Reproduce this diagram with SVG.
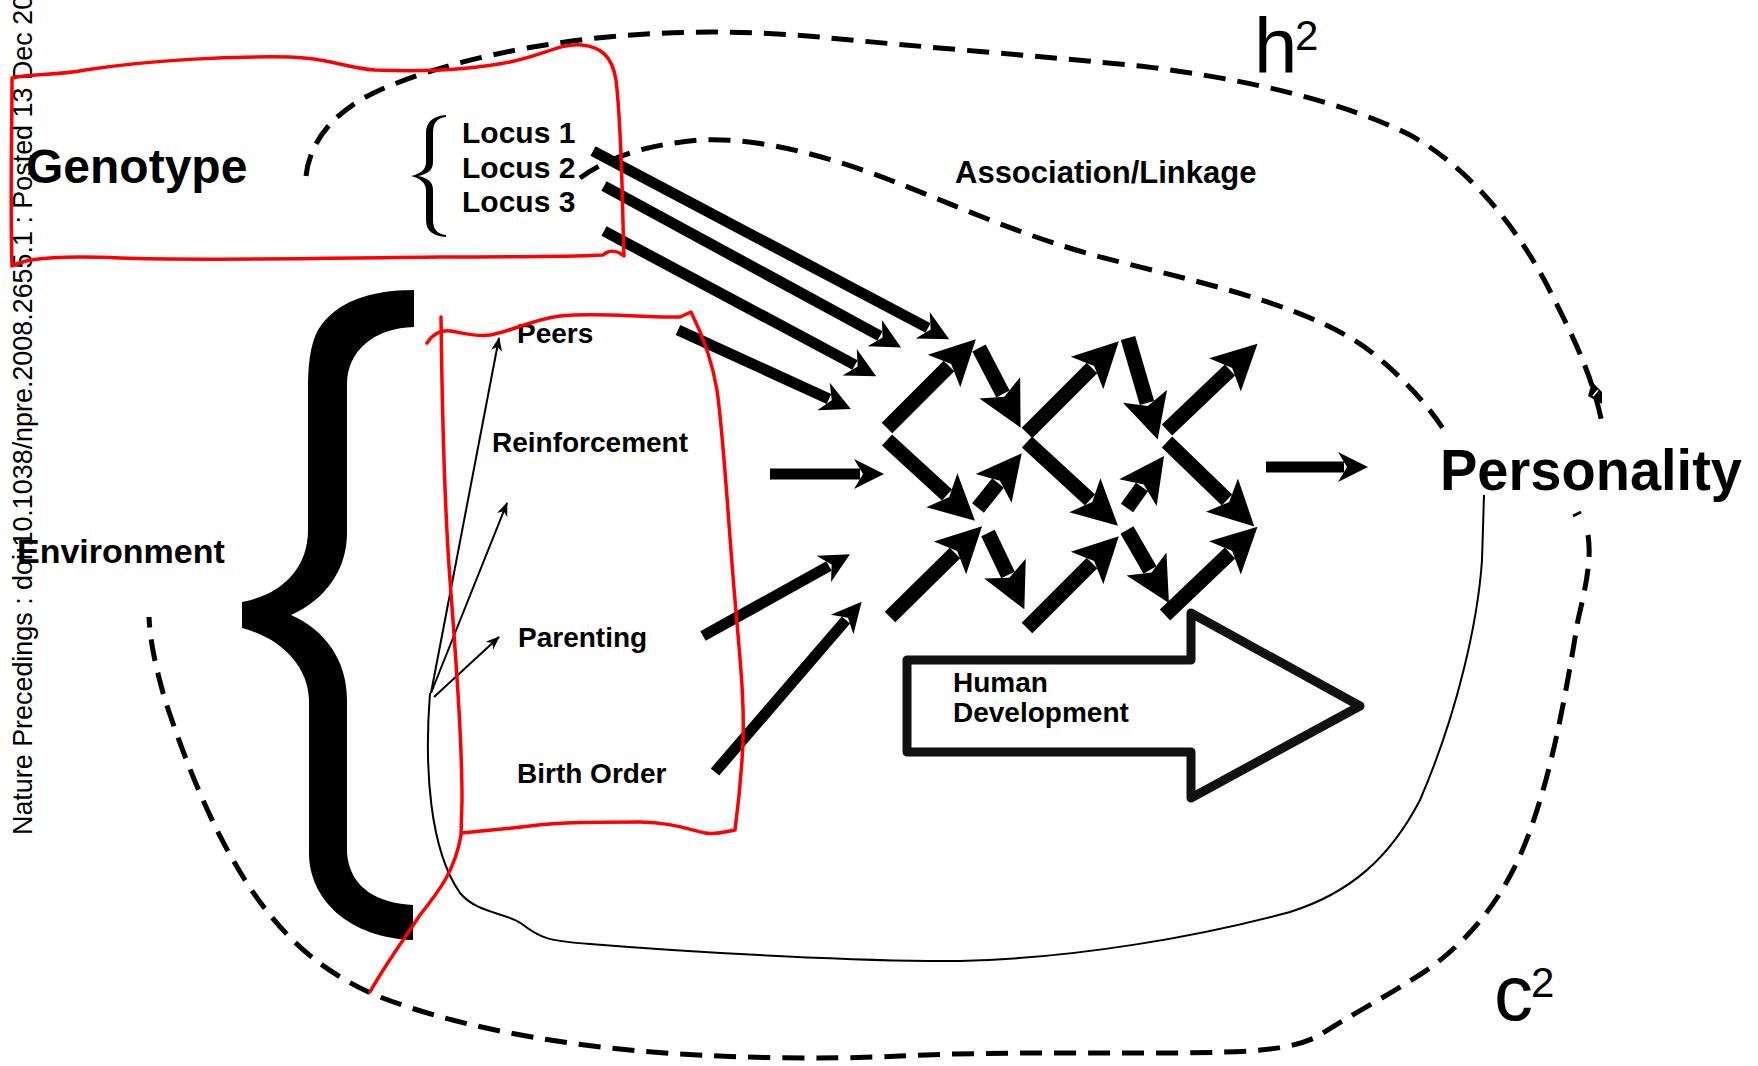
<svg xmlns="http://www.w3.org/2000/svg" width="1758" height="1066" viewBox="0 0 1758 1066">
<style>
.t{font-family:"Liberation Sans",Arial,sans-serif;font-weight:bold;fill:#000}
.r{font-family:"Liberation Sans",Arial,sans-serif;fill:#000}
.red{fill:none;stroke:#f00;stroke-width:3.5;stroke-linecap:round;stroke-linejoin:round}
.dash{fill:none;stroke:#000;stroke-width:5;stroke-dasharray:22 12}
.solid{fill:none;stroke:#000;stroke-width:2}
.in{fill:none;stroke:#000;stroke-width:11;marker-end:url(#ah)}
.net{fill:none;stroke:#000;stroke-width:15;marker-end:url(#ahb)}
.thin{fill:none;stroke:#000;stroke-width:2;marker-end:url(#as)}
</style>
<defs>
<marker id="ah" markerUnits="userSpaceOnUse" viewBox="-10 -20 40 40" markerWidth="40" markerHeight="40" refX="0" refY="0" orient="auto"><path d="M24,0 L-6,-15 L3,0 L-6,15 Z" fill="#000"/></marker>
<marker id="ahb" markerUnits="userSpaceOnUse" viewBox="-10 -25 55 50" markerWidth="55" markerHeight="50" refX="0" refY="0" orient="auto"><path d="M38,0 L-7,-23 L3,0 L-7,23 Z" fill="#000"/></marker>
<marker id="as" markerUnits="userSpaceOnUse" viewBox="-15 -8 17 16" markerWidth="17" markerHeight="16" refX="0" refY="0" orient="auto"><path d="M1,0 L-13,-5.5 L-9,0 L-13,5.5 Z" fill="#000"/></marker>
</defs>
<rect width="1758" height="1066" fill="#fff"/>

<g id="regions">
<path class="dash" d="M306,176 C310,140 335,110 380,90 C430,68 500,50 580,40 C660,30 740,30 820,37 C920,47 1040,56 1140,66 C1240,78 1340,100 1410,135 C1470,168 1520,230 1552,295 C1575,340 1594,380 1603,428"/>
<path d="M1573,516 L1581,512" stroke="#000" stroke-width="3" fill="none"/>
<path class="dash" d="M1588,535 C1592,560 1585,590 1578,620 C1568,680 1555,760 1532,825 C1510,890 1475,935 1430,968 C1390,995 1350,1015 1320,1035 C1290,1052 1240,1052 1180,1053 C1080,1053 980,1052 900,1056 C820,1060 720,1058 640,1051 C540,1042 450,1024 380,997 C320,972 280,935 245,880 C210,825 185,760 165,700 C155,665 150,640 149,617"/>
<polygon points="1592,382 1602,392 1602,404 1588,396" fill="#000"/>
<path d="M1593,396 L1598,390" stroke="#fff" stroke-width="1.5"/>
<path class="dash" d="M580,178 C605,160 640,145 700,140 C760,137 830,157 890,180 C960,207 1030,240 1120,262 C1220,287 1320,310 1375,355 C1405,380 1428,405 1446,433"/>
<path class="solid" d="M430,693 C424,770 430,850 460,893 C478,914 505,912 522,924 C540,938 548,941 590,944 C700,953 870,962 960,961 C1080,958 1200,936 1290,912 C1350,893 1390,858 1420,800 C1458,712 1478,620 1482,560 L1484,495"/>
</g>

<g id="genotype"><text class="t" x="26" y="183" font-size="48">Genotype</text></g>
<g id="loci">
<path d="M446,115 C433,116 426,122 426,133 L426,162 C426,170 420,174 411,176 C420,178 426,183 426,190 L426,220 C426,231 433,236 446,237 L446,235 C437,234 433,229 433,220 L433,190 C433,182 428,178 418,176 C428,174 433,170 433,162 L433,133 C433,123 437,118 446,117 Z" fill="#000"/>
<text class="t" x="462" y="143" font-size="30">Locus 1</text>
<text class="t" x="462" y="178" font-size="30">Locus 2</text>
<text class="t" x="462" y="212" font-size="30">Locus 3</text>
</g>
<g id="association"><text class="t" x="955" y="183" font-size="31">Association/Linkage</text></g>
<g id="h2"><text class="r" x="1254" y="73" font-size="78">h</text><text class="r" x="1295" y="50" font-size="42">2</text></g>
<g id="c2"><text class="r" x="1494" y="1020" font-size="78">c</text><text class="r" x="1531" y="997" font-size="42">2</text></g>
<g id="personality"><text class="t" x="1440" y="490" font-size="57" textLength="302" lengthAdjust="spacingAndGlyphs">Personality</text></g>
<g id="environment"><text class="t" x="17" y="563" font-size="34">Environment</text></g>
<g id="environment-brace">
<path d="M414,290 C370,290 335,302 318,330 C310,345 308,365 308,390 L308,530 C308,570 280,595 242,602 L242,628 C280,638 308,665 309,700 L309,853 C309,900 350,938 413,940 L413,905 C380,903 350,890 347,853 L347,700 C347,660 325,630 291,615 C325,600 347,570 347,533 L347,385 C347,350 375,328 414,327 Z" fill="#000"/>
</g>
<g id="peers"><text class="t" x="517" y="343" font-size="28">Peers</text></g>
<g id="reinforcement"><text class="t" x="492" y="452" font-size="28">Reinforcement</text></g>
<g id="parenting"><text class="t" x="518" y="647" font-size="28">Parenting</text></g>
<g id="birth-order"><text class="t" x="517" y="783" font-size="28">Birth Order</text></g>
<g id="human-development">
<polygon points="907,660 1191,660 1191,613 1360,706 1191,798 1191,752 907,752" fill="#fff" stroke="#111" stroke-width="9" stroke-linejoin="round"/>
<text class="t" x="953" y="692" font-size="28">Human</text>
<text class="t" x="953" y="722" font-size="28">Development</text>
</g>

<g id="connectors">
<path class="in" d="M593,151 L928,328"/>
<path class="in" d="M604,186 L880,336"/>
<path class="in" d="M604,231 L855,365"/>
<path class="in" d="M678,330 L829,399"/>
<path class="in" d="M770,474 L860,474"/>
<path class="in" d="M703,636 L829,566"/>
<path class="in" d="M715,772 L846,620"/>
<path class="in" d="M1266,467 L1344,467"/>
<path class="thin" d="M431,693 L499,338"/>
<path class="thin" d="M431,693 L507,503"/>
<path class="thin" d="M434,697 L499,637"/>
<g id="network">
<path class="net" d="M887,428 L949,366"/>
<path class="net" d="M887,440 L947,495"/>
<path class="net" d="M979,348 L1003,394"/>
<path class="net" d="M978,508 L998,483"/>
<path class="net" d="M1027,433 L1092,368"/>
<path class="net" d="M1027,442 L1090,500"/>
<path class="net" d="M1128,338 L1147,403"/>
<path class="net" d="M1127,508 L1142,487"/>
<path class="net" d="M1167,430 L1230,370"/>
<path class="net" d="M1167,442 L1227,500"/>
<path class="net" d="M890,617 L955,553"/>
<path class="net" d="M988,533 L1008,575"/>
<path class="net" d="M1027,628 L1092,563"/>
<path class="net" d="M1127,530 L1150,570"/>
<path class="net" d="M1165,615 L1230,553"/>
</g>
</g>

<g id="watermark"><text class="r" transform="translate(32,835) rotate(-90)" font-size="28" textLength="870" lengthAdjust="spacingAndGlyphs" fill="#111">Nature Precedings : doi:10.1038/npre.2008.2655.1 : Posted 13 Dec 2008</text></g>

<g id="annotations">
<path class="red" d="M12,266 C10,200 12,130 12,78 C30,73 55,76 85,70 C150,60 230,56 290,57 C330,58 345,68 375,70 C425,72 470,70 510,62 C545,55 560,43 582,45 C600,47 612,55 616,80 C622,130 622,200 624,256 C618,251 610,249 603,255 C560,257 500,257 440,257 C330,258 200,261 120,258 C80,256 50,257 30,260 C22,262 16,264 12,266"/>
<path class="red" d="M427,343 C432,335 440,330 450,331 C465,333 475,337 490,335 C510,332 530,320 560,316 C600,312 640,318 680,317 L691,312 C700,330 712,360 717,390 C724,440 728,520 735,600 C740,660 746,710 742,760 C740,790 737,815 735,830 C725,832 715,835 705,833 C690,830 670,822 640,822 C600,822 560,822 530,826 C505,829 480,831 462,833"/>
<path class="red" d="M441,317 C442,400 444,500 450,580 C456,660 462,740 462,800 L461,835 C455,870 440,890 420,915 C400,945 385,965 370,992"/>
</g>
</svg>
